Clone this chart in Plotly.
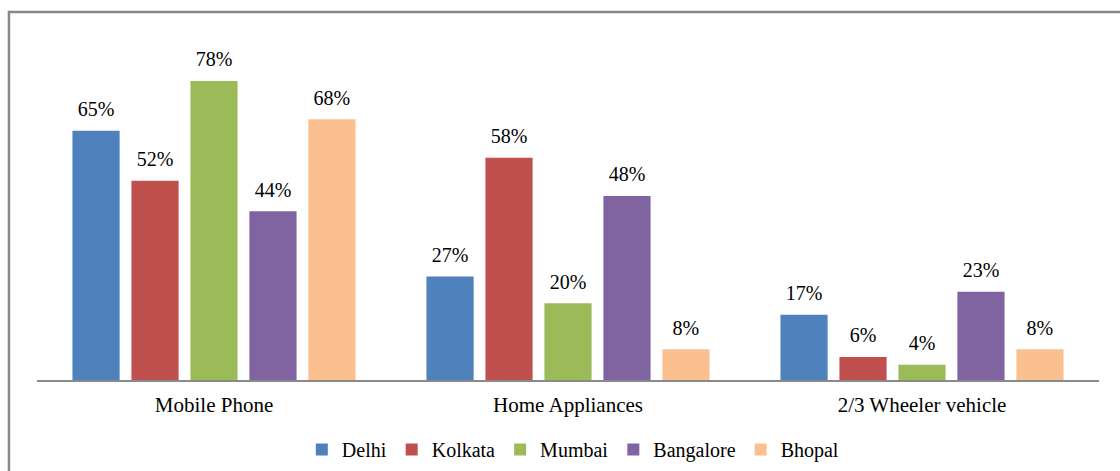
import plotly.graph_objects as go

categories = ["Mobile Phone", "Home Appliances", "2/3 Wheeler vehicle"]
series_names = ["Delhi", "Kolkata", "Mumbai", "Bangalore", "Bhopal"]
delhi = [65, 27, 17]
kolkata = [52, 58, 6]
mumbai = [78, 20, 4]
bangalore = [44, 48, 23]
bhopal = [68, 8, 8]
colors = ["#4F81BD", "#C0504D", "#9BBB59", "#8064A2", "#FAC090"]

values = [delhi, kolkata, mumbai, bangalore, bhopal]
FONT = "Liberation Serif"

fig = go.Figure()
for name, vals, col in zip(series_names, values, colors):
    fig.add_trace(go.Bar(
        name=name, x=categories, y=vals,
        marker=dict(color=col, line=dict(width=0)),
        legendgroup=name,
    ))
for name, vals in zip(series_names, values):
    fig.add_trace(go.Scatter(
        x=categories, y=vals, mode="markers+text",
        text=[f"{v}%" for v in vals], textposition="top center",
        marker=dict(size=14, opacity=0),
        textfont=dict(family=FONT, size=20, color="#000000"),
        showlegend=False, hoverinfo="skip", cliponaxis=False,
        legendgroup=name,
    ))

fig.update_layout(
    width=1120, height=471,
    margin=dict(l=37, r=21, t=35, b=91),
    paper_bgcolor="white", plot_bgcolor="white",
    barmode="group", bargap=0.167, bargroupgap=0.2,
    scattermode="group", scattergap=0.167,
    font=dict(family=FONT, color="#000000"),
    showlegend=True,
    legend=dict(orientation="h", xref="paper", x=0.505, xanchor="center",
                yref="container", y=0.0456, yanchor="middle",
                font=dict(family=FONT, size=20, color="#000000"),
                itemwidth=30, tracegroupgap=0),
    xaxis=dict(showline=True, linecolor="#898989", linewidth=1.5, ticks="",
               tickfont=dict(family=FONT, size=21, color="#000000"),
               ticklabelstandoff=5, automargin=False,
               showgrid=False, zeroline=False),
    yaxis=dict(range=[0, 90], visible=False, showgrid=False, zeroline=False,
               automargin=False),
    shapes=[dict(type="rect", xref="paper", yref="paper",
                 x0=-0.0264, x1=1.2, y0=-0.6, y1=1.0667,
                 line=dict(color="#878787", width=2.5), fillcolor="rgba(0,0,0,0)",
                 layer="above")],
)

fig.write_html("out.html", config={"displayModeBar": False},
               post_script="document.body.style.margin='0';document.body.style.overflow='hidden';")
